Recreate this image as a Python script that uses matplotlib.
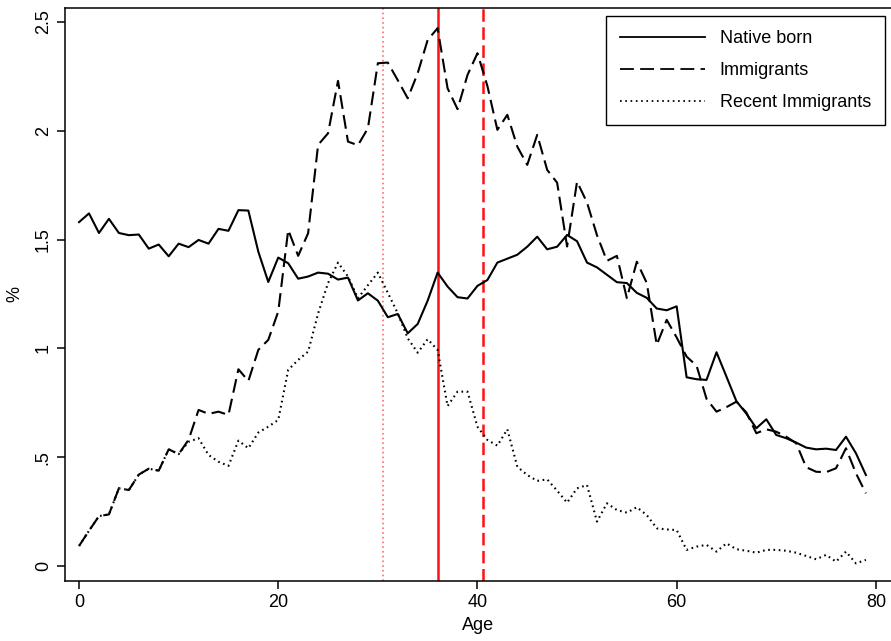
import matplotlib
matplotlib.use("Agg")
import matplotlib.pyplot as plt

plt.rcParams['font.family'] = ['Liberation Sans', 'DejaVu Sans']
plt.rcParams['lines.scale_dashes'] = False

# age distribution, % of each group
ages = list(range(80))
native = [1.58, 1.62, 1.53, 1.595, 1.53, 1.52, 1.523, 1.458, 1.477, 1.423,
          1.481, 1.465, 1.498, 1.481, 1.549, 1.54, 1.635, 1.633, 1.444, 1.305,
          1.417, 1.391, 1.32, 1.33, 1.348, 1.343, 1.316, 1.325, 1.22, 1.253,
          1.219, 1.143, 1.158, 1.069, 1.112, 1.219, 1.348, 1.284, 1.235, 1.229,
          1.287, 1.314, 1.394, 1.412, 1.43, 1.467, 1.513, 1.455, 1.467, 1.521,
          1.492, 1.394, 1.372, 1.338, 1.304, 1.3, 1.255, 1.232, 1.183, 1.175,
          1.193, 0.867, 0.858, 0.855, 0.982, 0.87, 0.757, 0.70, 0.633, 0.674,
          0.602, 0.587, 0.567, 0.544, 0.536, 0.539, 0.533, 0.594, 0.518, 0.418]
immigrants = [0.092, 0.162, 0.229, 0.237, 0.357, 0.349, 0.42, 0.447, 0.438, 0.536,
              0.514, 0.58, 0.717, 0.699, 0.709, 0.694, 0.904, 0.85, 0.993, 1.039,
              1.169, 1.544, 1.425, 1.529, 1.935, 1.988, 2.229, 1.95, 1.933, 2.011,
              2.31, 2.313, 2.232, 2.149, 2.264, 2.417, 2.471, 2.195, 2.099, 2.256,
              2.356, 2.205, 2.004, 2.073, 1.927, 1.843, 1.981, 1.82, 1.761, 1.468,
              1.766, 1.67, 1.52, 1.402, 1.425, 1.23, 1.398, 1.3, 1.016, 1.131,
              1.05, 0.962, 0.92, 0.768, 0.709, 0.73, 0.755, 0.705, 0.61, 0.628,
              0.617, 0.594, 0.564, 0.454, 0.433, 0.431, 0.449, 0.541, 0.426, 0.334]
recent = [0.092, 0.162, 0.229, 0.237, 0.357, 0.349, 0.42, 0.447, 0.438, 0.536,
          0.514, 0.571, 0.587, 0.51, 0.479, 0.46, 0.576, 0.541, 0.613, 0.64,
          0.671, 0.901, 0.947, 0.985, 1.16, 1.30, 1.394, 1.33, 1.23, 1.29,
          1.348, 1.255, 1.161, 1.046, 0.98, 1.042, 0.993, 0.735, 0.801, 0.801,
          0.64, 0.579, 0.553, 0.628, 0.456, 0.418, 0.391, 0.398, 0.346, 0.291,
          0.357, 0.372, 0.204, 0.288, 0.257, 0.245, 0.27, 0.234, 0.173, 0.168,
          0.165, 0.074, 0.089, 0.097, 0.066, 0.104, 0.077, 0.07, 0.061, 0.074,
          0.074, 0.07, 0.061, 0.046, 0.031, 0.051, 0.02, 0.066, 0.012, 0.028]

# mean ages (vertical markers)
mean_recent = 30.5
mean_native = 36.0
mean_immig = 40.6

fig = plt.figure(figsize=(8.91, 6.41), dpi=100)
ax = fig.add_axes([0.073, 0.0936, 0.927, 0.894])

ax.axvline(mean_recent, color='#ff6060', lw=1.1, linestyle=(0, (1.2, 2.2)))
ax.axvline(mean_native, color='#ff1010', lw=1.8)
ax.axvline(mean_immig, color='#ff1010', lw=1.8, linestyle=(0, (9, 4)))

ax.plot(ages, native, color='black', lw=1.5, label='Native born')
ax.plot(ages, immigrants, color='black', lw=1.5, linestyle=(0, (10, 4.5)), label='Immigrants')
ax.plot(ages, recent, color='black', lw=1.5, linestyle=(0, (1.2, 2.6)), label='Recent Immigrants')

ax.set_xlim(-1.406, 81.52)
ax.set_ylim(-0.069, 2.564)
ax.set_xticks([0, 20, 40, 60, 80])
ax.set_yticks([0, 0.5, 1, 1.5, 2, 2.5])
ax.set_yticklabels(['0', '.5', '1', '1.5', '2', '2.5'], rotation=90, va='center')
ax.tick_params(axis='both', labelsize=13, length=6, width=1.1, direction='out')
ax.set_xlabel('Age', fontsize=13, labelpad=4)
ax.set_ylabel('%', fontsize=13, labelpad=8)

ax.spines['right'].set_visible(False)
for s in ['left', 'bottom', 'top']:
    ax.spines[s].set_linewidth(1.1)

leg = ax.legend(loc='upper right', bbox_to_anchor=(0.993, 0.986), borderaxespad=0,
                fontsize=13, handlelength=4.7, handletextpad=0.8, labelspacing=0.82,
                borderpad=0.8, fancybox=False, framealpha=1, edgecolor='black')
leg.get_frame().set_linewidth(1.0)
for h in leg.get_lines():
    h.set_linewidth(1.3)

fig.savefig('out.png', dpi=100)
